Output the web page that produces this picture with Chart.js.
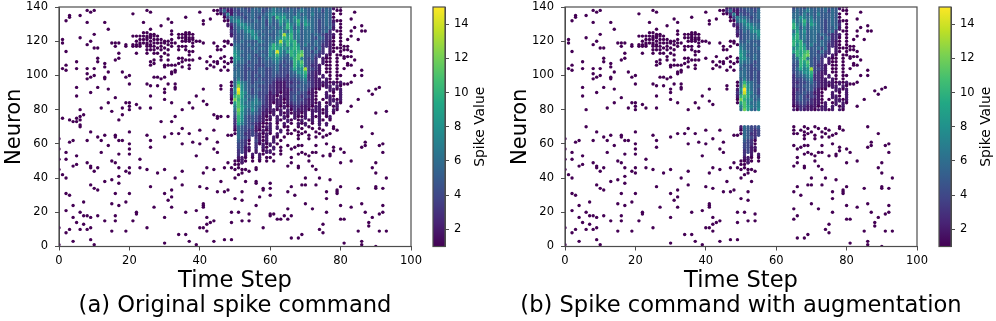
<!DOCTYPE html>
<html>
<head>
<meta charset="utf-8">
<title>Spike command</title>
<script src="https://cdn.jsdelivr.net/npm/chart.js@4"></script>
<style>
  body { margin: 0; background: #fff; }
  canvas { position: absolute; top: 0; }
</style>
</head>
<body>
<canvas id="panelA" width="425" height="321" style="left:0"></canvas>
<canvas id="barA" width="65" height="321" style="left:425px"></canvas>
<canvas id="panelB" width="490" height="321" style="left:506px"></canvas>
<canvas id="barB" width="65" height="321" style="left:931px"></canvas>
<script>
const xTicks = [0, 20, 40, 60, 80, 100];
const yTicks = [0, 20, 40, 60, 80, 100, 120, 140];
const colorbarTicks = [2, 4, 6, 8, 10, 12, 14];
const viridisStops = ['#440154', '#482475', '#414487', '#355f8d', '#2a788e', '#21918c', '#22a884', '#44bf70', '#7ad151', '#bddf26', '#fde725'];

// the part of the raster that panel (b) blanks out
const maskedSteps = [56, 64];
const maskedNeurons = [71, 79];

// sparse spikes (value 1): index is the time step, entries are neurons
const lowSpikes = [
  [63,57,51,45,11,1],
  [121,119,104,75,42],
  [132,114,106,103,55,51,40,31,21,8],
  [135,134,74,61,30,10],
  [73,62,47,24,17,3],
  [108,104,93,88,75,73,53,48,14],
  [135,122,80,76,74,71,70,20,10],
  [77,26,18,13],
  [138,131,118,104,101,98,62,49,18,10],
  [137,120,99,90,67,47,46,36,17,11,4],
  [138,124,116,104,100,44,34,1],
  [116,110,108,93,64,46,33,18],
  [81,62,55],
  [131,107,105,99,98,65,38,15],
  [127,102,92,84,59],
  [119,79,50,39,25,9],
  [119,117,109,87,65,64,49,31,18,15],
  [119,113,110,74,62,54,46,41,37,24],
  [102,81,77,62],
  [118,117,99,84,44,26,9],
  [100,95,84,82,80,67,60,57,54,46,43,31],
  [136,123,118,117,15],
  [123,120,118,117,113,83,20,19],
  [123,121,119,118,117,81,51,46],
  [131,125,123,121,119],
  [138,125,123,122,121,119,118,117,115,113,95,65,45,11],
  [137,127,124,123,122,120,118,117,115,108,106,94,88,81,62,58,35],
  [124,123,121,119,117,115,113,109,107,99,23],
  [123,121,119,116,113,99,94,43],
  [129,121,119,117,115,111,109,98,73],
  [120,119,116,113,106,105,99,92,90,86,64,45,31,17,2],
  [133,120,118,115,112,109,106,95,27],
  [131,126,124,121,119,117,106,102,101,84,73,66,33,29,23],
  [119,106,103,102,95,93,92,76,40],
  [124,122,117,115,110,107,66,7],
  [124,122,120,117,110,108,105,80,69,60,44,36],
  [134,125,124,123,122,121,120,117,115,109,20,7],
  [125,124,122,121,120,114,112,109,106,104,84,66,3],
  [124,122,121,119,117,114,109,81,61],
  [120,88,53,21,1],
  [137,120,110,68,60,35,11],
  [132,130,119,92,85,43,25,24,23,11],
  [108,104,83,63,46,34,17,13,9],
  [133,111,106,14],
  [138,119,108,105,77,68,57,45,15,3],
  [138,136,117,115,108,107,76,75,61,55,32],
  [115,110,103,94,38],
  [132,120,117,111,108,105,46,32,4],
  [120,119,107,103,76,65,49,33],
  [126,125,118,110,108,65,46,20,14,4],
  [48,45,40,28],
  [48,46,42,20],
  [49,45,43,32,27,15],
  [45,38],
  [44,19,15],
  [],
  [46,45,38,37,24],
  [29],
  [34,33,11],
  [],
  [37,34,30,19,18],
  [19],
  [16],
  [16],
  [18],
  [70,59,47,32,22,16],
  [66,57,52,49,35,18,5],
  [68,58,30],
  [70,67,65,63,59,54,47,46,5],
  [69,66,59,55,36,7],
  [67,54,40,36,25],
  [70,65,63,53,50],
  [69,55,47,22],
  [67,64,59,55,45,36],
  [69,66,40,10],
  [68,64,53,13,8],
  [65,60,32,28,20],
  [66,54,53,39],
  [70,69,58,56],
  [68,33,32,31],
  [57,49,35,24,16],
  [117,115,111,110,104,95,55,16,2],
  [121,117,115,111,107,106,95,79],
  [133,126,123,114,111,106,96,82,50,23],
  [137,128,109,100],
  [121,86,34,9],
  [129,126,103,100,70,58,25,3,1],
  [126,61,59,20],
  [91,14,12],
  [89,66,46,17],
  [92,78,49,43,35,34,0],
  [93,59,19,9],
  [60,55,34,24,20],
  [79,40,9]
];

// a digit above 1 stands for the neuron and the one below it, a 1 is a lone spike
const denseFirstStep = 46;
const denseNeurons = [140,138,136,134,132,130,128,126,124,122,120,118,116,114,112,110,108,106,104,102,100,98,96,94,92,90,88,86,84,82,80,78,76,74,72,70,68,66,64,62,60,58,56,54,52,50];
const denseValues = [
  "2333 4554456554 5765645546 55656555211",
  "3622 4455465645 6766556567 65656465.11",
  "1372 5445565556 7877766575 657555651.1",
  ".147 6654565465 75a8966876 756555651..",
  "..16 7865556564 75697867a6 86654565211",
  "..23 5787665564 65586a7695 976545653.1",
  "...2 5678765565 56567a8575 766545562.1",
  "...3 4657886655 6568669685 66654563.11",
  "...2 4556687565 5567d8a675 665654332.1",
  ".... 4556678655 6578a9a675 665465331.1",
  ".... 5565555765 667d8a9a65 665654321.1",
  ".... 6655656555 7a8a7a8a85 755653321.1",
  ".... 7655565665 8a98879a95 556463.2111",
  ".... 8765556555 87e869a9ab 554643.21.1",
  ".... 9755654565 87a765a9bc 55543.21.11",
  ".... 8865655456 6786557ab7 5453.211.1.",
  ".... 7665455455 5675455a9b 5443.211.1.",
  ".... 6554554445 5564545a8a 54332.11.1.",
  ".... 5654454554 4564446978 d4432.11.1.",
  ".... 6654544554 4554445688 a4322.11.1.",
  ".... 6654545454 4544435567 9332.2.1.11",
  ".... 5754544544 4433334456 73322.21.1.",
  "...1 6a76545554 4322233445 64322221212",
  "...1 6c86555444 3322234455 54322122.21",
  "1..2 8f86545544 3322223445 53211..2212",
  "...3 7e97545444 2321224454 4221..2.1.2",
  "...2 ab96656443 2212224543 4321..221.2",
  "...1 ca87567543 2222124544 3221.1.2212",
  "...1 9b86677643 2122123443 32212.12.21",
  ".... 7b97676533 2.21212332 22122.2.12.",
  ".... 6c96586432 2212.21322 2122212.21.",
  ".... 5b86565422 12.2121221 2.2.212.1..",
  "1... 4a85454321 2.2.21.211 2.212.12...",
  ".... 3a85454321 1.21.21.12 .12.21.1...",
  ".... 3975443211 2.1.2.1.21 2.1.2.2....",
  ".... 2654452212 2.2.1..... ...........",
  ".... 1654342121 2..2.1.... ...........",
  ".... 1653343212 1.2..1.... ...........",
  ".... .6543.3212 .21.1..... ...........",
  ".... .5431.4212 .2.1...... ...........",
  ".... .4431.3121 2.1....... ...........",
  ".... .4422.3.21 .2.1...... ...........",
  ".... .3421.2.12 2..1...... ...........",
  ".... .3.2.2.21. .1.1...... ...........",
  ".... .221.1.2.1 1......... ...........",
  ".... 1121.1.1.1 .1........ ..........."
];

function allSpikes() {
  const spikes = [];
  lowSpikes.forEach((neurons, step) => {
    neurons.forEach(n => spikes.push({ x: step, y: n, v: 1 }));
  });
  denseValues.forEach((row, r) => {
    row.replace(/ /g, '').split('').forEach((ch, c) => {
      if (ch === '.') return;
      const v = parseInt(ch, 16);
      spikes.push({ x: denseFirstStep + c, y: denseNeurons[r], v });
      if (v > 1) spikes.push({ x: denseFirstStep + c, y: denseNeurons[r] - 1, v });
    });
  });
  return spikes;
}

function isMasked(p) {
  return (p.x >= maskedSteps[0] && p.x <= maskedSteps[1]) ||
         (p.y >= maskedNeurons[0] && p.y <= maskedNeurons[1]);
}

function hexToRgb(hex) {
  return [1, 3, 5].map(i => parseInt(hex.substr(i, 2), 16));
}

function viridis(value) {
  const pos = (value - 1) / 14 * (viridisStops.length - 1);
  const i = Math.min(Math.floor(pos), viridisStops.length - 2);
  const a = hexToRgb(viridisStops[i]);
  const b = hexToRgb(viridisStops[i + 1]);
  const f = pos - i;
  return `rgb(${a.map((c, k) => Math.round(c + (b[k] - c) * f)).join(',')})`;
}

const font = 'DejaVu Sans';
const frameColor = '#4d4d4d';

// matplotlib draws all four spines, Chart.js only two
const framePlugin = {
  id: 'frame',
  afterDraw(chart) {
    const a = chart.chartArea;
    const ctx = chart.ctx;
    ctx.save();
    ctx.strokeStyle = frameColor;
    ctx.lineWidth = 1.2;
    ctx.strokeRect(a.left, a.top, a.right - a.left, a.bottom - a.top);
    ctx.restore();
  }
};

// Chart.js squeezes a title to the axis width, the caption is wider than that in (b)
function captionPlugin(text) {
  return {
    id: 'caption',
    afterDraw(chart) {
      const a = chart.chartArea;
      const ctx = chart.ctx;
      ctx.save();
      ctx.font = `22.6px "${font}"`;
      ctx.fillStyle = '#000';
      ctx.textAlign = 'center';
      ctx.textBaseline = 'middle';
      ctx.fillText(text, (a.left + a.right) / 2, 306);
      ctx.restore();
    }
  };
}

// Chart.js turns a right axis title clockwise, the reference reads bottom to top
const barTitlePlugin = {
  id: 'barTitle',
  afterDraw(chart) {
    const ctx = chart.ctx;
    const a = chart.chartArea;
    ctx.save();
    ctx.translate(a.right + 35, (a.top + a.bottom) / 2);
    ctx.rotate(-Math.PI / 2);
    ctx.font = `13.9px "${font}"`;
    ctx.fillStyle = '#000';
    ctx.textAlign = 'center';
    ctx.textBaseline = 'middle';
    ctx.fillText('Spike Value', 0, 0);
    ctx.restore();
  }
};

function fixedTicks(list) {
  return scale => { scale.ticks = list.map(value => ({ value })); };
}

// drop the room Chart.js keeps for half a tick label, so layout.padding alone places the plot
function noLabelPadding(s) {
  s.paddingTop = 0;
  s.paddingBottom = 0;
  s.paddingLeft = 0;
  s.paddingRight = 0;
}

function drawPanel(id, spikes, caption, rightPad) {
  new Chart(document.getElementById(id), {
    type: 'scatter',
    data: {
      datasets: [{
        data: spikes,
        pointRadius: 1.7,
        pointBorderWidth: 0,
        pointBackgroundColor: ctx => viridis(ctx.raw.v)
      }]
    },
    options: {
      responsive: false,
      animation: false,
      layout: { padding: { top: 7, right: rightPad, left: 0, bottom: 0 } },
      plugins: { legend: { display: false }, tooltip: { enabled: false } },
      scales: {
        x: {
          type: 'linear',
          min: 0,
          max: 100,
          afterBuildTicks: fixedTicks(xTicks),
          afterFit: s => { noLabelPadding(s); s.height = 74.5; },
          grid: { drawOnChartArea: false, tickLength: 4, color: frameColor },
          border: { color: frameColor },
          ticks: { color: '#000', font: { family: font, size: 11.5 }, maxRotation: 0, padding: 4 },
          title: {
            display: true,
            text: 'Time Step',
            color: '#000',
            font: { family: font, size: 22.6, lineHeight: 1.1 },
            padding: { top: 0, bottom: 27.5 }
          }
        },
        y: {
          min: 0,
          max: 140,
          afterBuildTicks: fixedTicks(yTicks),
          afterFit: s => { noLabelPadding(s); s.width = 59; },
          grid: { drawOnChartArea: false, tickLength: 4, color: frameColor },
          border: { color: frameColor },
          ticks: { color: '#000', font: { family: font, size: 11.5 }, padding: 7 },
          title: {
            display: true,
            text: 'Neuron',
            color: '#000',
            font: { family: font, size: 21 },
            padding: { top: 2, bottom: 0 }
          }
        }
      }
    },
    plugins: [framePlugin, captionPlugin(caption)]
  });
}

function drawColorbar(id) {
  new Chart(document.getElementById(id), {
    type: 'bar',
    data: {
      labels: ['Spike Value'],
      datasets: [{
        data: [[1, 15]],
        barPercentage: 1,
        categoryPercentage: 1,
        backgroundColor: ctx => {
          const area = ctx.chart.chartArea;
          if (!area) return viridisStops[0];
          const g = ctx.chart.ctx.createLinearGradient(0, area.bottom, 0, area.top);
          viridisStops.forEach((c, i) => g.addColorStop(i / (viridisStops.length - 1), c));
          return g;
        }
      }]
    },
    options: {
      responsive: false,
      animation: false,
      layout: { padding: { top: 7, left: 8, right: 0, bottom: 74.5 } },
      plugins: { legend: { display: false }, tooltip: { enabled: false } },
      scales: {
        x: { display: false },
        y: {
          position: 'right',
          min: 1,
          max: 15,
          afterBuildTicks: fixedTicks(colorbarTicks),
          afterFit: s => { noLabelPadding(s); s.width = 45; },
          grid: { drawOnChartArea: false, tickLength: 4, color: frameColor },
          border: { color: frameColor },
          ticks: { color: '#000', font: { family: font, size: 11.5 }, padding: 5 }
        }
      }
    },
    plugins: [framePlugin, barTitlePlugin]
  });
}

const spikes = allSpikes();
drawPanel('panelA', spikes, '(a) Original spike command', 14);
drawPanel('panelB', spikes.filter(p => !isMasked(p)), '(b) Spike command with augmentation', 79);
drawColorbar('barA');
drawColorbar('barB');
</script>
</body>
</html>
